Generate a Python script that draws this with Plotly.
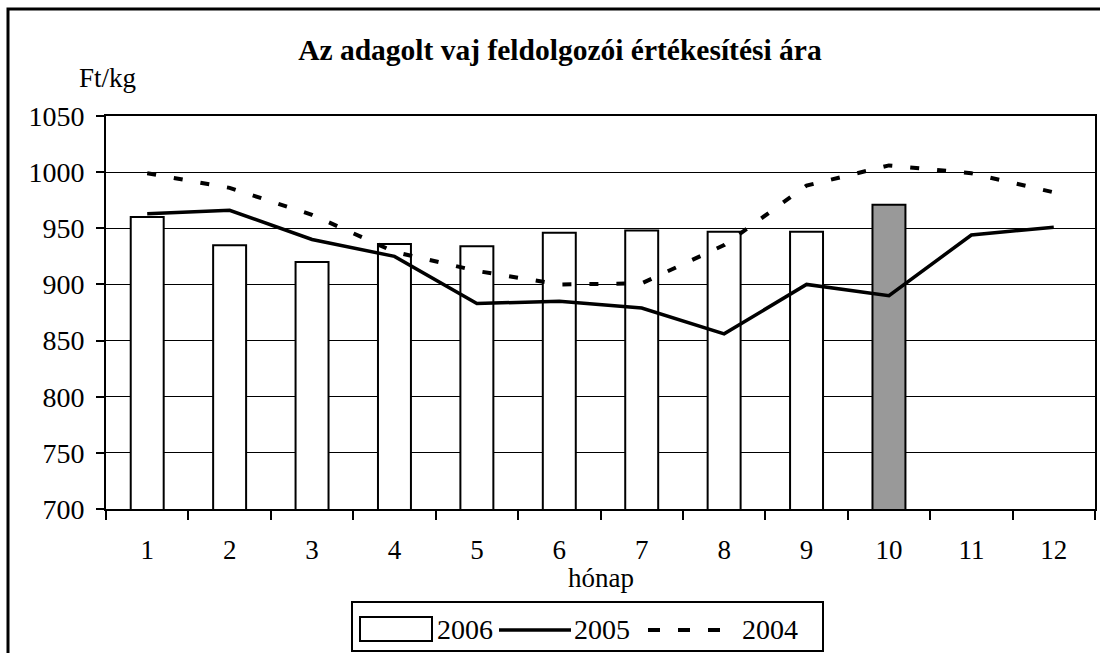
import plotly.graph_objects as go

# ---- data ----
months = ["1", "2", "3", "4", "5", "6", "7", "8", "9", "10", "11", "12"]
y2006 = [960, 935, 920, 936, 934, 946, 948, 947, 947, 971, None, None]
y2005 = [963, 966, 940, 925, 883, 885, 879, 856, 900, 890, 944, 951]
y2004 = [999, 986, 962, 929, 912, 900, 901, 935, 988, 1006, 999, 982]
bar_colors = ["white"] * 9 + ["#999999", "white", "white"]

W, H = 1100, 653
L, R, T, B = 106, 1095, 116, 509  # plot area in px
FONT = "Liberation Serif"


def px_x(px):
    return (px - L) / (R - L)


def px_y(py):
    return (B - py) / (B - T)


fig = go.Figure()
fig.add_trace(go.Bar(
    x=months, y=y2006, name="2006",
    marker=dict(color=bar_colors, line=dict(color="black", width=2)),
    showlegend=False,
))
fig.add_trace(go.Scatter(
    x=months, y=y2005, name="2005", mode="lines",
    line=dict(color="black", width=3.5), showlegend=False,
))
fig.add_trace(go.Scatter(
    x=months, y=y2004, name="2004", mode="lines",
    line=dict(color="black", width=4, dash="9px,18px"), showlegend=False,
))

shapes = []
annotations = []

# outer chart frame (cropped at right/bottom)
shapes.append(dict(type="rect", xref="paper", yref="paper",
                   x0=px_x(8), x1=px_x(1110), y0=px_y(665), y1=px_y(9),
                   line=dict(color="black", width=3), fillcolor="rgba(0,0,0,0)", layer="above"))

# custom legend
shapes.append(dict(type="rect", xref="paper", yref="paper",
                   x0=px_x(352), x1=px_x(823), y0=px_y(651), y1=px_y(602),
                   line=dict(color="black", width=2), fillcolor="white"))
shapes.append(dict(type="rect", xref="paper", yref="paper",
                   x0=px_x(360), x1=px_x(432), y0=px_y(641), y1=px_y(617),
                   line=dict(color="black", width=2), fillcolor="white"))
shapes.append(dict(type="line", xref="paper", yref="paper",
                   x0=px_x(499), x1=px_x(571), y0=px_y(630), y1=px_y(630),
                   line=dict(color="black", width=3.5)))
shapes.append(dict(type="line", xref="paper", yref="paper",
                   x0=px_x(648), x1=px_x(720), y0=px_y(630), y1=px_y(630),
                   line=dict(color="black", width=4, dash="12px,18px")))
for txt, xp in [("2006", 435), ("2005", 572), ("2004", 740)]:
    annotations.append(dict(text=txt, xref="paper", yref="paper",
                            x=px_x(xp), y=px_y(629), xanchor="left", yanchor="middle",
                            showarrow=False, font=dict(family=FONT, size=28, color="black")))

annotations.append(dict(text="Ft/kg", xref="paper", yref="paper",
                        x=px_x(107), y=px_y(78), xanchor="center", yanchor="middle",
                        showarrow=False, font=dict(family=FONT, size=27, color="black")))
annotations.append(dict(text="hónap", xref="paper", yref="paper",
                        x=0.5, y=px_y(578), xanchor="center", yanchor="middle",
                        showarrow=False, font=dict(family=FONT, size=27, color="black")))

fig.update_layout(
    width=W, height=H,
    margin=dict(l=L, r=W - R, t=T, b=H - B, autoexpand=False),
    paper_bgcolor="white", plot_bgcolor="white",
    bargap=0.6,
    title=dict(text="<b>Az adagolt vaj feldolgozói értékesítési ára</b>",
               x=0.509, xanchor="center", y=1 - 50 / H, yanchor="middle",
               font=dict(family=FONT, size=29.5, color="black")),
    xaxis=dict(type="category", tickson="boundaries", ticks="outside", ticklen=9,
               tickwidth=1.5, tickcolor="black", showline=True, linecolor="black",
               linewidth=2, mirror=True, showgrid=False, ticklabelstandoff=16,
               tickfont=dict(family=FONT, size=27, color="black")),
    yaxis=dict(range=[700, 1050], dtick=50, ticks="outside", ticklen=8,
               tickwidth=1.5, tickcolor="black", showline=True, linecolor="black",
               linewidth=2, mirror=True, showgrid=True, gridcolor="black", gridwidth=1,
               zeroline=False, ticklabelstandoff=6,
               tickfont=dict(family=FONT, size=28, color="black")),
    shapes=shapes,
    annotations=annotations,
    showlegend=False,
)

fig.write_html("out.html", config={"displayModeBar": False},
               post_script="document.body.style.margin='0';document.body.style.overflow='hidden';")
